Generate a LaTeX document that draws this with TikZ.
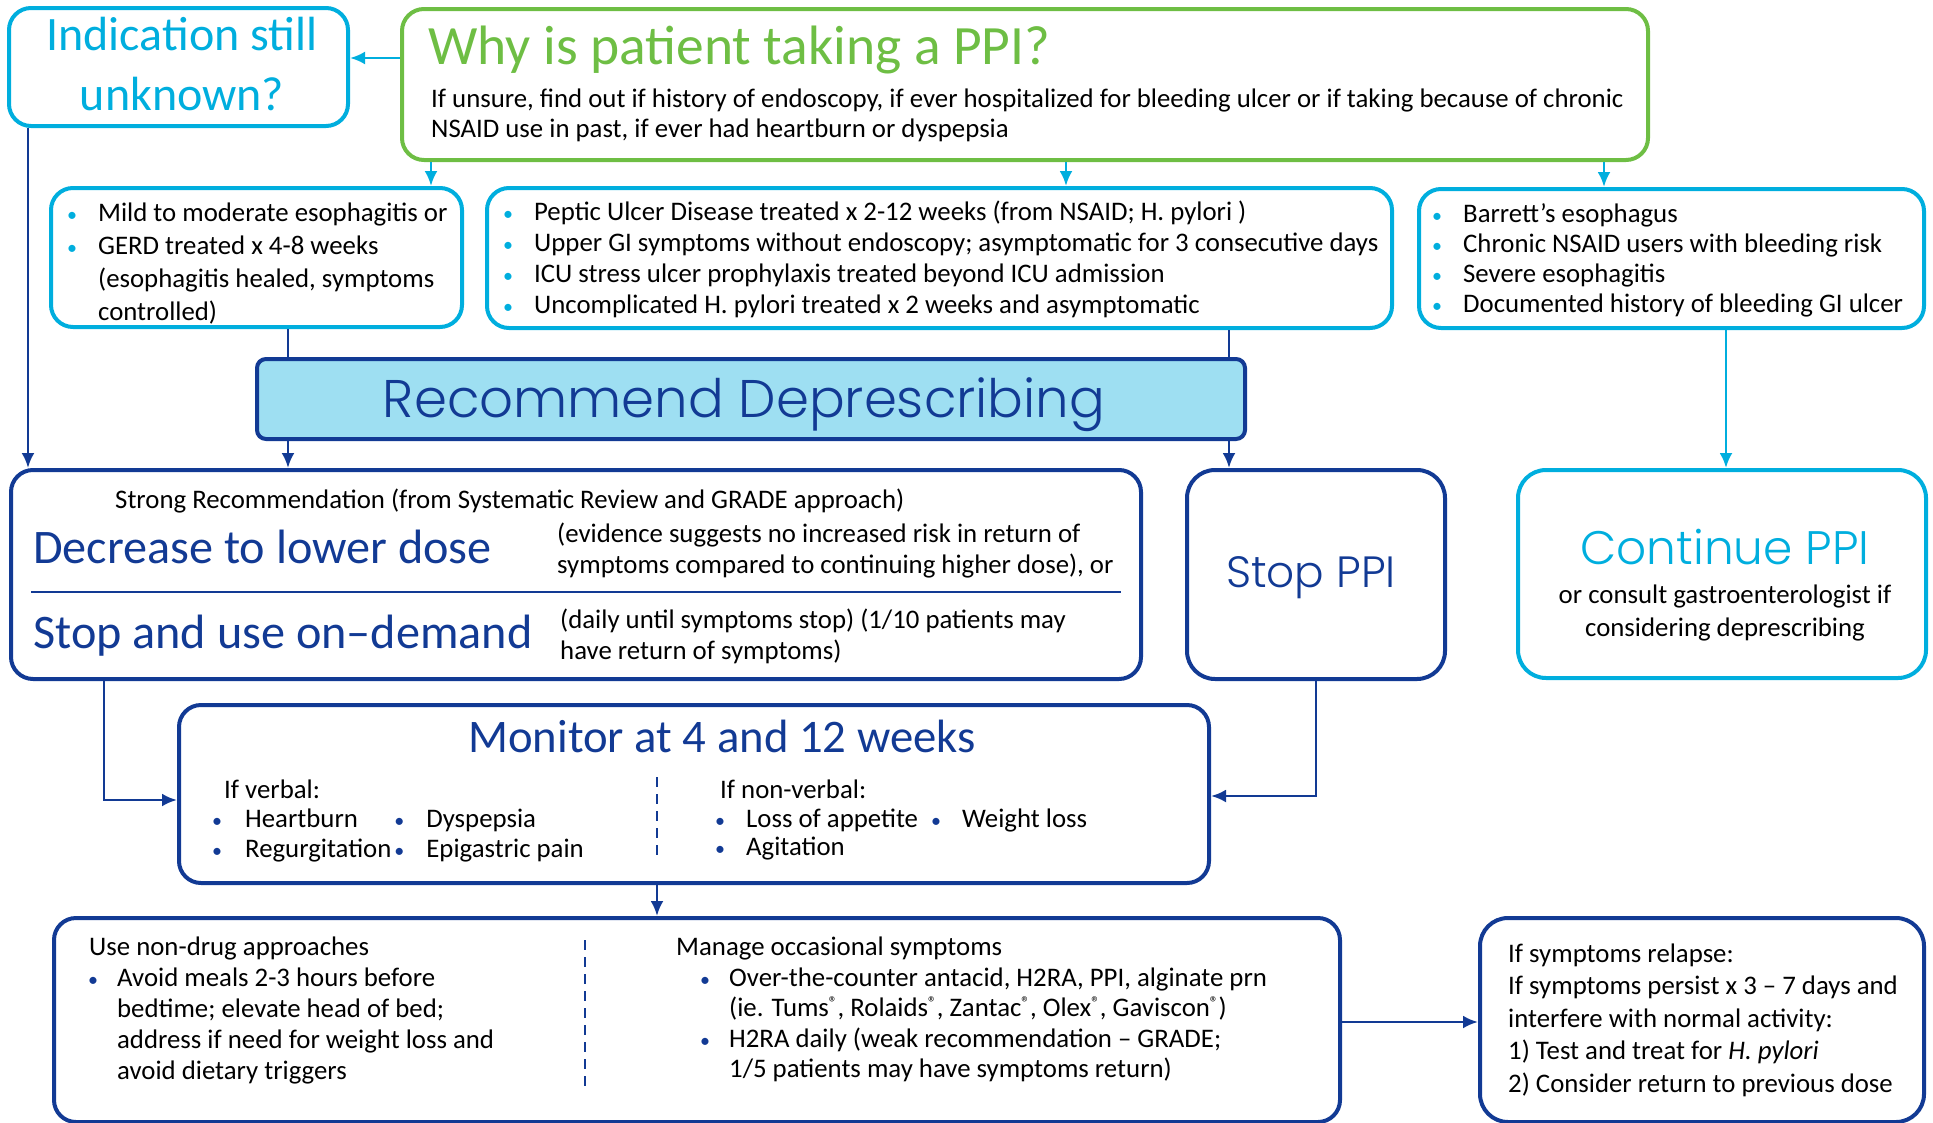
\documentclass[tikz,border=0pt]{standalone}
\usepackage{fontspec}
\setmainfont{Carlito}
\newfontfamily\geofont{Poppins Light}
\usetikzlibrary{arrows.meta}
\definecolor{ppicyan}{RGB}{0,174,222}
\definecolor{ppigreen}{RGB}{110,190,68}
\definecolor{ppiblue}{RGB}{18,58,148}
\definecolor{ppifill}{RGB}{158,223,242}
\newcommand{\bodyfont}{\fontsize{26.8}{31}\selectfont}
\newcommand{\cbul}{{\color{ppicyan}\fontsize{20}{20}\selectfont\textbullet}}
\newcommand{\bbul}{{\color{ppiblue}\fontsize{20}{20}\selectfont\textbullet}}
\newcommand{\reg}{\raisebox{8pt}{\fontsize{17}{17}\selectfont ®}}

\begin{document}
\begin{tikzpicture}[x=1pt, y=-1pt, >={Latex[length=15pt,width=13pt]},
  cbox/.style={draw=ppicyan, line width=4pt, rounded corners=22pt},
  gbox/.style={draw=ppigreen, line width=4pt, rounded corners=22pt},
  bbox/.style={draw=ppiblue, line width=4pt, rounded corners=22pt},
  txt/.style={inner sep=0pt, anchor=base west, font=\bodyfont},
  cline/.style={ppicyan, line width=2.8pt},
  bline/.style={ppiblue, line width=2.8pt},
  sepline/.style={ppiblue, line width=2.5pt, dash pattern=on 10pt off 7pt}]
\useasboundingbox (0,0) rectangle (1933,1122);

% boxes
\node[cbox, minimum width=339, minimum height=118] (unknown) at (178.5,67) {};
\node[gbox, minimum width=1246, minimum height=151] (why) at (1025,84.5) {};
\node[cbox, minimum width=411, minimum height=139] (lbox) at (256.5,257.5) {};
\node[cbox, minimum width=905, minimum height=140] (mbox) at (939.5,258) {};
\node[cbox, minimum width=505, minimum height=139] (rbox) at (1671.5,258.5) {};
\node[bbox, fill=ppifill, rounded corners=9pt, minimum width=988, minimum height=80] (recommend) at (751,399) {};
\node[bbox, minimum width=1130, minimum height=209] (strong) at (576,574.5) {};
\node[bbox, rounded corners=28pt, minimum width=258, minimum height=209] (stop) at (1316,574.5) {};
\node[cbox, rounded corners=28pt, minimum width=408, minimum height=208] (continue) at (1722,574) {};
\node[bbox, minimum width=1030, minimum height=178] (monitor) at (694,794) {};
\node[bbox, minimum width=1286, minimum height=204] (bottom) at (697,1020) {};
\node[bbox, rounded corners=28pt, minimum width=444, minimum height=204] (relapse) at (1702,1020) {};

% connectors
\draw[cline,->] (why.west |- 0,58) -- (unknown.east |- 0,58);
\draw[cline,->] (why.south -| 431,0) -- (lbox.north -| 431,0);
\draw[cline,->] (why.south -| 1066,0) -- (mbox.north -| 1066,0);
\draw[cline,->] (why.south -| 1604,0) -- (rbox.north -| 1604,0);
\draw[cline,->] (rbox.south -| 1726,0) -- (continue.north -| 1726,0);
\draw[bline,->] (unknown.south -| 28,0) -- (strong.north -| 28,0);
\draw[bline] (lbox.south -| 288,0) -- (recommend.north -| 288,0);
\draw[bline,->] (recommend.south -| 288,0) -- (strong.north -| 288,0);
\draw[bline] (mbox.south -| 1229,0) -- (recommend.north -| 1229,0);
\draw[bline,->] (recommend.south -| 1229,0) -- (stop.north -| 1229,0);
\draw[bline,->] (strong.south -| 104,0) |- (monitor.west |- 0,800);
\draw[bline,->] (stop.south) |- (monitor.east |- 0,796);
\draw[bline,->] (monitor.south -| 657,0) -- (bottom.north -| 657,0);
\draw[bline,->] (bottom.east |- 0,1022) -- (relapse.west |- 0,1022);

% top row
\node[txt, anchor=base, text=ppicyan, font=\fontsize{48}{60}\selectfont] (unknowntxt) at (182,50)
  {\begin{tabular}[t]{@{}c@{}}Indication still\\unknown?\end{tabular}};
\node[txt, text=ppigreen, font=\fontsize{55.5}{60}\selectfont] (whytitle) at (428,64) {Why is patient taking a PPI?};
\node[txt, font=\fontsize{26.8}{30}\selectfont] (whytxt) at (431,107)
  {\begin{tabular}[t]{@{}l@{}}If unsure, find out if history of endoscopy, if ever hospitalized for bleeding ulcer or if taking because of chronic\\
   NSAID use in past, if ever had heartburn or dyspepsia\end{tabular}};

% indications
\node[txt, font=\fontsize{26.8}{33}\selectfont] (ltxt) at (67,221)
  {\begin{tabular}[t]{@{}l@{\hspace{21pt}}l@{}}\cbul & Mild to moderate esophagitis or\\ \cbul & GERD treated x 4-8 weeks\\
   & (esophagitis healed, symptoms\\ & controlled)\end{tabular}};
\node[txt] (mtxt) at (503,220)
  {\begin{tabular}[t]{@{}l@{\hspace{21pt}}l@{}}\cbul & Peptic Ulcer Disease treated x 2-12 weeks (from NSAID; H. pylori )\\
   \cbul & Upper GI symptoms without endoscopy; asymptomatic for 3 consecutive days\\
   \cbul & ICU stress ulcer prophylaxis treated beyond ICU admission\\
   \cbul & Uncomplicated H. pylori treated x 2 weeks and asymptomatic\end{tabular}};
\node[txt, font=\fontsize{26.8}{30}\selectfont] (rtxt) at (1432,222)
  {\begin{tabular}[t]{@{}l@{\hspace{21pt}}l@{}}\cbul & Barrett’s esophagus\\ \cbul & Chronic NSAID users with bleeding risk\\
   \cbul & Severe esophagitis\\ \cbul & Documented history of bleeding GI ulcer\end{tabular}};

% middle row
\node[txt, anchor=base, text=ppiblue, font=\geofont\fontsize{53}{60}\selectfont] (recommendtxt) at (744,417) {Recommend Deprescribing};
\node[txt] (strongtxt) at (115,508) {Strong Recommendation (from Systematic Review and GRADE approach)};
\node[txt, text=ppiblue, font=\fontsize{48.2}{50}\selectfont] (decrease) at (33,563) {Decrease to lower dose};
\node[txt] (decreasetxt) at (557,542)
  {\begin{tabular}[t]{@{}l@{}}(evidence suggests no increased risk in return of\\symptoms compared to continuing higher dose), or\end{tabular}};
\draw[ppiblue, line width=2.5pt] (31,592) -- (1121,592);
\node[txt, text=ppiblue, font=\fontsize{48.2}{50}\selectfont] (ondemand) at (33,648) {Stop and use on–demand};
\node[txt] (ondemandtxt) at (560,628)
  {\begin{tabular}[t]{@{}l@{}}(daily until symptoms stop) (1/10 patients may\\have return of symptoms)\end{tabular}};
\node[txt, anchor=base, text=ppiblue, font=\geofont\fontsize{43.8}{50}\selectfont] (stoptxt) at (1311,587) {Stop PPI};
\node[txt, anchor=base, text=ppicyan, font=\geofont\fontsize{47}{60}\selectfont] (continuetxt) at (1725,564) {Continue PPI};
\node[txt, anchor=base, font=\fontsize{26.8}{33}\selectfont] (consulttxt) at (1725,603)
  {\begin{tabular}[t]{@{}c@{}}or consult gastroenterologist if\\considering deprescribing\end{tabular}};

% monitoring
\node[txt, anchor=base, text=ppiblue, font=\fontsize{46.7}{50}\selectfont] (monitortxt) at (722,752) {Monitor at 4 and 12 weeks};
\node[txt] (verbal) at (224,798) {If verbal:};
\node[txt, font=\fontsize{26.8}{30}\selectfont] (verbaltxt) at (212,827)
  {\begin{tabular}[t]{@{}l@{\hspace{23pt}}l@{\hspace{3pt}}l@{\hspace{22pt}}l@{}}\bbul & Heartburn & \bbul & Dyspepsia\\
   \bbul & Regurgitation & \bbul & Epigastric pain\end{tabular}};
\draw[sepline] (657,777) -- (657,858);
\node[txt] (nonverbal) at (720,798) {If non-verbal:};
\node[txt, font=\fontsize{26.8}{28}\selectfont] (nonverbaltxt) at (715,827)
  {\begin{tabular}[t]{@{}l@{\hspace{21pt}}l@{\hspace{13pt}}l@{\hspace{21pt}}l@{}}\bbul & Loss of appetite & \bbul & Weight loss\\
   \bbul & Agitation & & \end{tabular}};

% managing
\node[txt] (nondrug) at (89,955) {Use non-drug approaches};
\node[txt] (nondrugtxt) at (88,986)
  {\begin{tabular}[t]{@{}l@{\hspace{19pt}}l@{}}\bbul & Avoid meals 2-3 hours before\\ & bedtime; elevate head of bed;\\
   & address if need for weight loss and\\ & avoid dietary triggers\end{tabular}};
\draw[sepline] (585,940) -- (585,1093);
\node[txt] (occasional) at (676,955) {Manage occasional symptoms};
\node[txt, font=\fontsize{26.8}{30.5}\selectfont] (occasionaltxt) at (700,986)
  {\begin{tabular}[t]{@{}l@{\hspace{19pt}}l@{}}\bbul & Over-the-counter antacid, H2RA, PPI, alginate prn\\
   & (ie. Tums\reg, Rolaids\reg, Zantac\reg, Olex\reg, Gaviscon\reg)\\
   \bbul & H2RA daily (weak recommendation – GRADE;\\ & 1/5 patients may have symptoms return)\end{tabular}};
\node[txt, font=\fontsize{26.8}{32.5}\selectfont] (relapsetxt) at (1508,962)
  {\begin{tabular}[t]{@{}l@{}}If symptoms relapse:\\If symptoms persist x 3 – 7 days and\\interfere with normal activity:\\
   1) Test and treat for \textit{H. pylori}\\2) Consider return to previous dose\end{tabular}};
\end{tikzpicture}
\end{document}
